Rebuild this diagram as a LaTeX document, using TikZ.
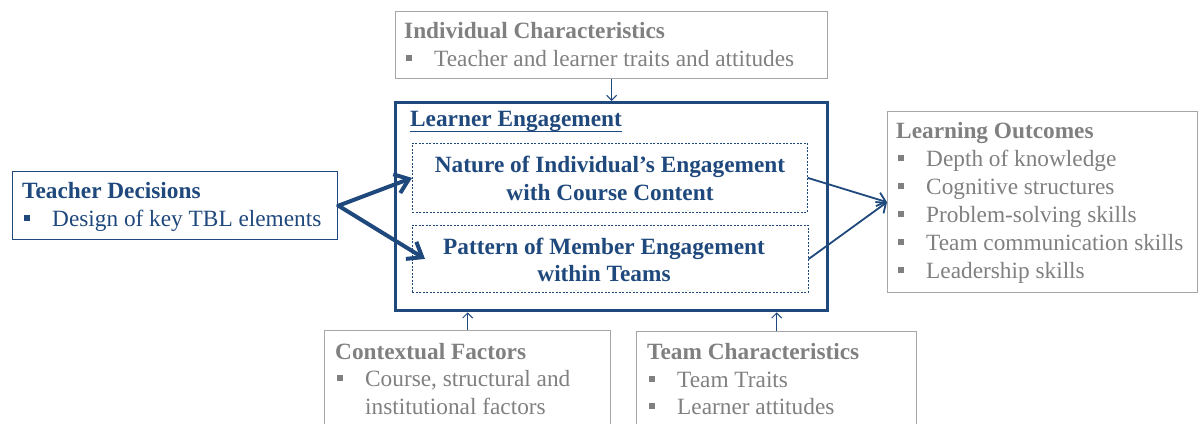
\documentclass[tikz,border=0pt]{standalone}
\usepackage{fontspec}
\setmainfont{Liberation Serif}
\usetikzlibrary{arrows.meta}
\definecolor{navy}{RGB}{31,73,125}
\definecolor{greytext}{RGB}{128,128,128}
\definecolor{greyline}{RGB}{166,166,166}
% square list bullet followed by the indent of the item text
\newcommand\sqbul{\makebox[30pt][l]{\hspace{1.5pt}\rule[5pt]{6pt}{6pt}}}
\newcommand\sqind{\hspace{30pt}}

\begin{document}
\begin{tikzpicture}[x=1pt,y=-1pt,
  txt/.style={inner sep=0pt, anchor=base west, font=\fontsize{23.3}{28}\selectfont},
  ctxt/.style={inner sep=0pt, anchor=base, font=\fontsize{23.3}{28}\selectfont\bfseries, text=navy},
  gtitle/.style={txt, font=\fontsize{23.3}{28}\selectfont\bfseries, text=greytext},
  gitem/.style={txt, text=greytext},
  btitle/.style={txt, font=\fontsize{23.3}{28}\selectfont\bfseries, text=navy},
  bitem/.style={txt, text=navy},
  frame/.style={rectangle, inner sep=0pt, anchor=north west},
  greybox/.style={frame, draw=greyline, line width=1.3pt, fill=white},
  bluebox/.style={frame, draw=navy, line width=1.4pt, fill=white},
  mainbox/.style={frame, draw=navy, line width=3.4pt},
  dashbox/.style={frame, draw=navy, line width=0.8pt, dash pattern=on 2pt off 1.5pt},
  thinarrow/.style={draw=navy, line width=1pt, -{Straight Barb[length=5pt,width=10pt]}},
  medarrow/.style={draw=navy, line width=1.8pt, -{Straight Barb[length=8pt,width=14pt]}},
  thickarrow/.style={draw=navy, line width=4pt, line cap=round, -{Straight Barb[length=13pt,width=20pt]}}
]
\useasboundingbox (0,0) rectangle (1198,423);
\clip (0,0) rectangle (1198,423);
\fill[white] (0,0) rectangle (1198,423);

% frames
\node[greybox, minimum width=432pt, minimum height=67pt] (ic) at (395,11) {};
\node[mainbox, minimum width=432pt, minimum height=208pt] (le) at (394,101) {};
\node[dashbox, minimum width=395pt, minimum height=69pt] (nat) at (412,143) {};
\node[dashbox, minimum width=396pt, minimum height=67pt] (pat) at (412,225) {};
\node[bluebox, minimum width=325pt, minimum height=68pt] (td) at (12,171) {};
\node[greybox, minimum width=310pt, minimum height=181pt] (lo) at (887,111) {};
\node[greybox, minimum width=286pt, minimum height=110pt] (cf) at (324,330) {};
\node[greybox, minimum width=280pt, minimum height=110pt] (tc) at (636,331) {};

% Individual Characteristics
\node[gtitle] (ict) at (404,38) {Individual Characteristics};
\node[gitem] (ic1) at (404,66) {\sqbul Teacher and learner traits and attitudes};

% Learner Engagement
\node[btitle] (let) at (410,126) {Learner Engagement};
\draw[navy, line width=1.6pt] ([yshift=-5.5pt]let.base west) -- ([yshift=-5.5pt]let.base east);
\node[ctxt] (nat1) at (610,172) {Nature of Individual’s Engagement};
\node[ctxt] (nat2) at (610,200) {with Course Content};
\node[ctxt] (pat1) at (604,254) {Pattern of Member Engagement};
\node[ctxt] (pat2) at (604,281) {within Teams};

% Teacher Decisions
\node[btitle] (tdt) at (22,198) {Teacher Decisions};
\node[bitem] (td1) at (22,226) {\sqbul Design of key TBL elements};

% Learning Outcomes
\node[gtitle] (lot) at (896,138) {Learning Outcomes};
\node[gitem] (lo1) at (896,166) {\sqbul Depth of knowledge};
\node[gitem] (lo2) at (896,194) {\sqbul Cognitive structures};
\node[gitem] (lo3) at (896,222) {\sqbul Problem-solving skills};
\node[gitem] (lo4) at (896,250) {\sqbul Team communication skills};
\node[gitem] (lo5) at (896,278) {\sqbul Leadership skills};

% Contextual Factors
\node[gtitle] (cft) at (335,359) {Contextual Factors};
\node[gitem] (cf1) at (335,386) {\sqbul Course, structural and};
\node[gitem] (cf2) at (335,414) {\sqind institutional factors};

% Team Characteristics
\node[gtitle] (tct) at (647,359) {Team Characteristics};
\node[gitem] (tc1) at (647,387) {\sqbul Team Traits};
\node[gitem] (tc2) at (647,414) {\sqbul Learner attitudes};

% connectors
\draw[thinarrow] (ic.south) -- (ic.south |- le.north);
\draw[thinarrow] (cf.north) -- (cf.north |- le.south);
\draw[thinarrow] (tc.north) -- (tc.north |- le.south);
\draw[thickarrow] (td.east) -- (nat.west);
\draw[thickarrow] (td.east) -- ([xshift=13pt]pat.west);
\draw[medarrow] (nat.east) -- (lo.west);
\draw[medarrow] (pat.east) -- (lo.west);
\end{tikzpicture}
\end{document}
